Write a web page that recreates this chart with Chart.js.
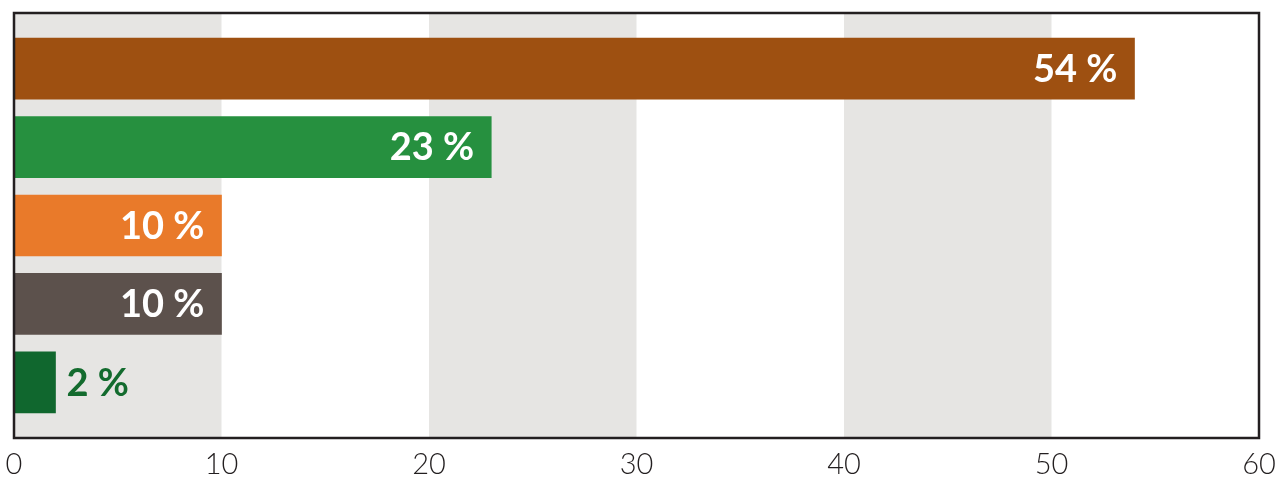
<!DOCTYPE html>
<html>
<head>
<meta charset="utf-8">
<script src="https://cdn.jsdelivr.net/npm/chart.js@4/dist/chart.umd.min.js"></script>
<style>
  html, body { margin: 0; padding: 0; background: #fff; }
  #wrap { width: 1275px; height: 477px; }
</style>
</head>
<body>
<div id="wrap"><canvas id="shareChart"></canvas></div>
<script>
const categories = ['A', 'B', 'C', 'D', 'E'];
const shareValues = [54, 23, 10, 10, 2];
const barColors = ['#9e5011', '#26903f', '#e97a2a', '#5c514c', '#10672e'];
const outsideLabelColor = '#136b2e';
const xTicks = [0, 10, 20, 30, 40, 50, 60];
const shadedBands = [[0, 10], [20, 30], [40, 50]];

const frameColor = '#231f20';

// grey vertical bands behind bars + frame around plot
const bandsPlugin = {
  id: 'bands',
  beforeDatasetsDraw(chart) {
    const { ctx, chartArea, scales } = chart;
    ctx.save();
    ctx.fillStyle = '#e6e5e3';
    shadedBands.forEach(([from, to]) => {
      const x1 = scales.x.getPixelForValue(from);
      const x2 = scales.x.getPixelForValue(to);
      ctx.fillRect(x1, chartArea.top, x2 - x1, chartArea.bottom - chartArea.top);
    });
    ctx.restore();
  },
  afterDatasetsDraw(chart) {
    const { ctx, chartArea } = chart;
    ctx.save();
    ctx.strokeStyle = frameColor;
    ctx.lineWidth = 2.5;
    ctx.strokeRect(chartArea.left, chartArea.top, chartArea.right - chartArea.left, chartArea.bottom - chartArea.top);
    ctx.restore();
  }
};

// value labels at the bar ends
const valueLabels = {
  id: 'valueLabels',
  afterDatasetsDraw(chart) {
    const { ctx } = chart;
    const meta = chart.getDatasetMeta(0);
    ctx.save();
    ctx.font = 'bold 38px Lato';
    ctx.textBaseline = 'middle';
    meta.data.forEach((bar, i) => {
      const text = shareValues[i] + ' %';
      if (shareValues[i] >= 5) {
        ctx.fillStyle = '#ffffff';
        ctx.textAlign = 'right';
        ctx.fillText(text, bar.x - 17, bar.y + 1);
      } else {
        ctx.fillStyle = outsideLabelColor;
        ctx.textAlign = 'left';
        ctx.fillText(text, bar.x + 11, bar.y + 1);
      }
    });
    ctx.restore();
  }
};

new Chart(document.getElementById('shareChart'), {
  type: 'bar',
  data: {
    labels: categories,
    datasets: [{
      data: shareValues.map((v, i) => ({ x: v, y: i })),
      backgroundColor: barColors,
      borderWidth: 0,
      barThickness: 61
    }]
  },
  options: {
    indexAxis: 'y',
    responsive: true,
    maintainAspectRatio: false,
    animation: false,
    layout: { padding: { left: 14, right: 0, top: 13, bottom: 0 } },
    plugins: {
      legend: { display: false },
      tooltip: { enabled: false }
    },
    scales: {
      x: {
        type: 'linear',
        min: 0,
        max: 60,
        afterBuildTicks: axis => { axis.ticks = xTicks.map(v => ({ value: v })); },
        afterFit: axis => {
          axis.height = 39;
          axis.paddingRight = 16;
        },
        grid: { display: false, drawTicks: false },
        border: { display: false },
        ticks: {
          color: frameColor,
          padding: 0,
          font: { family: 'Lato', size: 29, weight: '300', lineHeight: 1.86 }
        }
      },
      y: {
        type: 'linear',
        reverse: true,
        offset: false,
        min: -0.71,
        max: 4.71,
        display: false
      }
    }
  },
  plugins: [bandsPlugin, valueLabels]
});
</script>
</body>
</html>
